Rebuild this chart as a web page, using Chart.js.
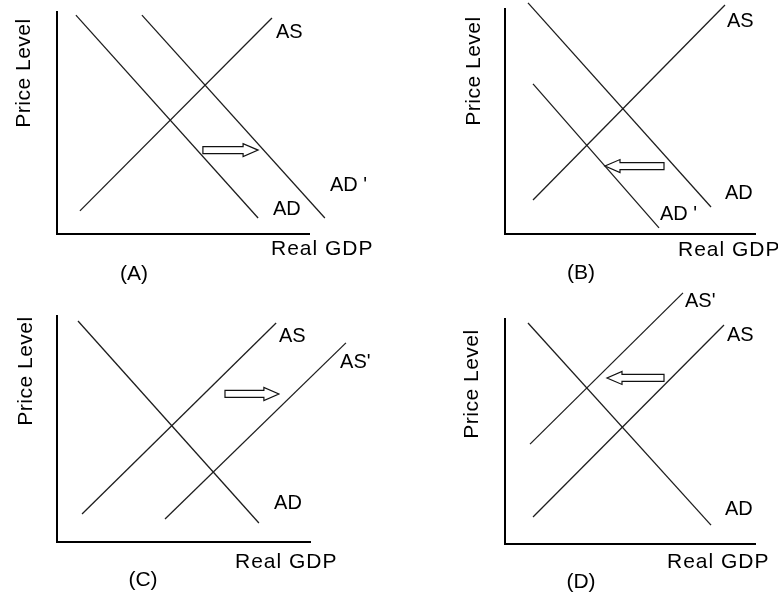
<!DOCTYPE html>
<html><head><meta charset="utf-8">
<script src="https://cdn.jsdelivr.net/npm/chart.js@4.4.0/dist/chart.umd.min.js"></script>
<style>
html,body{margin:0;padding:0;background:#fff;}
#wrap{position:relative;width:778px;height:594px;overflow:hidden;background:#fff;}
canvas{position:absolute;}
</style></head><body>
<div id="wrap">
<canvas id="cA" width="389" height="297" style="left:0;top:0"></canvas>
<canvas id="cB" width="389" height="297" style="left:389px;top:0"></canvas>
<canvas id="cC" width="389" height="314" style="left:0;top:280px"></canvas>
<canvas id="cD" width="389" height="314" style="left:389px;top:280px"></canvas>
</div>
<script>
// ---- text ----
const panelNames = ['(A)', '(B)', '(C)', '(D)'];
const xTitle = 'Real GDP';
const yTitle = 'Price Level';

// ---- data (axes run 0..100 on both scales) ----
// Panel A: AD shifts right
const aAS  = [{x: 9.1, y: 10.4}, {x: 85.3, y: 97.3}];
const aAD  = [{x: 7.5, y: 98.6}, {x: 79.8, y: 7.2}];
const aAD2 = [{x: 33.7, y: 98.6}, {x: 106.3, y: 7.2}];
const aArrow = [57.9, 79.8, 37.8];           // from x, to x, at y
const aLabels = [['AS', 86.9, 88.3], ["AD '", 108.3, 19.4], ['AD', 85.7, 8.6]];

// Panel B: AD shifts left
const bAS  = [{x: 11.2, y: 15.1}, {x: 88.0, y: 101.8}];
const bAD  = [{x: 9.2, y: 102.7}, {x: 82.4, y: 12.0}];
const bAD2 = [{x: 11.2, y: 66.7}, {x: 61.6, y: 2.7}];
const bArrow = [63.6, 40.0, 30.2];
const bLabels = [['AS', 88.8, 92.0], ['AD', 88.0, 15.6], ["AD '", 62.0, 6.2]];

// Panel C: AS shifts right
const cAS  = [{x: 9.9, y: 12.4}, {x: 86.6, y: 96.9}];
const cAS2 = [{x: 42.7, y: 10.2}, {x: 114.2, y: 88.1}];
const cAD  = [{x: 8.3, y: 97.8}, {x: 79.8, y: 8.4}];
const cArrow = [66.4, 87.7, 65.5];
const cLabels = [['AS', 87.7, 88.5], ["AS'", 111.9, 77.0], ['AD', 85.8, 14.6]];

// Panel D: AS shifts left
const dAS  = [{x: 11.2, y: 12.0}, {x: 87.6, y: 97.3}];
const dAS2 = [{x: 10.0, y: 44.4}, {x: 71.2, y: 111.6}];
const dAD  = [{x: 9.2, y: 98.2}, {x: 82.4, y: 8.4}];
const dArrow = [63.6, 40.8, 73.8];
const dLabels = [['AS', 88.8, 90.2], ["AS'", 72.0, 105.3], ['AD', 88.0, 12.9]];

// ---- layout (pixels within each canvas) ----
const layouts = [
  {pad: {left: 57, top: 12, right: 80, bottom: 63}, xt: [271, 255], nm: [134, 274], yt: [30, 73]},
  {pad: {left: 116, top: 9, right: 23, bottom: 63}, xt: [289, 256], nm: [192, 273], yt: [91, 71]},
  {pad: {left: 57, top: 36, right: 79, bottom: 52}, xt: [235, 288], nm: [143, 300], yt: [32, 91]},
  {pad: {left: 116, top: 39, right: 23, bottom: 50}, xt: [278, 288], nm: [192, 302], yt: [89, 104]}
];

const FONT = '"Liberation Sans", Arial, sans-serif';

const econPlugin = {
  id: 'econ',
  afterDatasetsDraw(chart, args, opts) {
    const {ctx, scales: {x, y}} = chart;
    const L = opts.layout;
    ctx.save();
    // shift arrow
    const [f, t, yv] = opts.arrow;
    const x1 = x.getPixelForValue(f), x2 = x.getPixelForValue(t), ay = y.getPixelForValue(yv);
    const dir = Math.sign(x2 - x1), bh = 3.5, hh = 6.5, hl = 15;
    const hb = x2 - dir * hl;
    ctx.beginPath();
    ctx.moveTo(x1, ay - bh); ctx.lineTo(hb, ay - bh); ctx.lineTo(hb, ay - hh);
    ctx.lineTo(x2, ay); ctx.lineTo(hb, ay + hh); ctx.lineTo(hb, ay + bh);
    ctx.lineTo(x1, ay + bh); ctx.closePath();
    ctx.fillStyle = '#fff'; ctx.fill();
    ctx.lineWidth = 1.2; ctx.strokeStyle = '#111'; ctx.stroke();
    // curve labels
    ctx.fillStyle = '#000';
    ctx.font = '20px ' + FONT;
    ctx.textAlign = 'left'; ctx.textBaseline = 'alphabetic';
    opts.labels.forEach(l => ctx.fillText(l[0], x.getPixelForValue(l[1]), y.getPixelForValue(l[2])));
    // axis titles
    ctx.font = '21px ' + FONT;
    ctx.letterSpacing = '1px';
    ctx.fillText(xTitle, L.xt[0], L.xt[1]);
    ctx.letterSpacing = '0.5px';
    ctx.save();
    ctx.translate(L.yt[0], L.yt[1]);
    ctx.rotate(-Math.PI / 2);
    ctx.textAlign = 'center';
    ctx.fillText(yTitle, 0, 0);
    ctx.restore();
    // panel name
    ctx.letterSpacing = '0px';
    ctx.textAlign = 'center'; ctx.textBaseline = 'middle';
    ctx.fillText(opts.name, L.nm[0], L.nm[1]);
    ctx.restore();
  }
};

function line(data) {
  return {data, showLine: true, pointRadius: 0, borderWidth: 1.3,
          borderColor: '#1e1e1e', backgroundColor: '#1e1e1e', tension: 0, clip: false};
}
const axis = {type: 'linear', min: 0, max: 100,
  ticks: {display: false}, grid: {display: false, drawTicks: false},
  border: {display: true, color: '#000', width: 2}};

function make(id, idx, curves, arrow, labels) {
  const L = layouts[idx];
  new Chart(document.getElementById(id), {
    type: 'scatter',
    data: {datasets: curves.map(line)},
    options: {
      responsive: false, animation: false, events: [],
      layout: {padding: L.pad},
      plugins: {legend: {display: false}, tooltip: {enabled: false},
        econ: {layout: L, arrow, labels, name: panelNames[idx]}},
      scales: {x: axis, y: axis}
    },
    plugins: [econPlugin]
  });
}

make('cA', 0, [aAS, aAD, aAD2], aArrow, aLabels);
make('cB', 1, [bAS, bAD, bAD2], bArrow, bLabels);
make('cC', 2, [cAS, cAS2, cAD], cArrow, cLabels);
make('cD', 3, [dAS, dAS2, dAD], dArrow, dLabels);
</script>
</body></html>
